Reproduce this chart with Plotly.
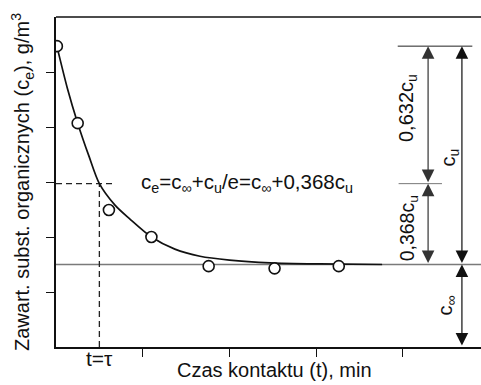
import plotly.graph_objects as go

# ---- data ----
t_points = [0.1, 2.5, 6.1, 11.0, 17.6, 25.2, 32.6]
c_points = [5.47, 4.07, 2.49, 2.0, 1.47, 1.43, 1.47]

t_curve = [0.1, 1.3, 2.5, 3.8, 5.0, 6.8, 8.5, 11.0, 13.7, 16.6, 20.0, 24.7, 30.4, 37.6]
c_curve = [5.47, 4.71, 4.07, 3.47, 2.97, 2.58, 2.33, 2.0, 1.78, 1.65, 1.58, 1.53, 1.51, 1.5]

c_inf = 1.5          # asymptote level
c_top = 5.47         # initial concentration level
c_e_tau = 2.97       # c_e at t = tau
tau = 5.0

x_ticks = [10, 20, 30, 40]
y_ticks = [1, 2, 3, 4, 5]

X_MAX = 49.0
Y_MAX = 6.0

FONT = "Liberation Sans, Arial, sans-serif"
INK = "#111111"

fig = go.Figure()

# asymptote line c_inf
fig.add_trace(go.Scatter(x=[0, X_MAX], y=[c_inf, c_inf], mode="lines",
                         line=dict(color="#7a7a7a", width=1.5), hoverinfo="skip"))
# dashed guides at t = tau
fig.add_trace(go.Scatter(x=[0, 6.8], y=[c_e_tau, c_e_tau], mode="lines",
                         line=dict(color="#222", width=1.3, dash="6px,4px"), hoverinfo="skip"))
fig.add_trace(go.Scatter(x=[tau, tau], y=[0, c_e_tau], mode="lines",
                         line=dict(color="#222", width=1.3, dash="6px,4px"), hoverinfo="skip"))
# fitted curve
fig.add_trace(go.Scatter(x=t_curve, y=c_curve, mode="lines",
                         line=dict(color="#111", width=1.7, shape="spline", smoothing=0.8),
                         hoverinfo="skip"))
# measured points
fig.add_trace(go.Scatter(x=t_points, y=c_points, mode="markers",
                         marker=dict(symbol="circle", size=11, color="white",
                                     line=dict(color="#111", width=1.6))))

# extension lines for dimensioning
fig.add_trace(go.Scatter(x=[39.4, 48.0], y=[c_top, c_top], mode="lines",
                         line=dict(color="#222", width=1), hoverinfo="skip"))
fig.add_trace(go.Scatter(x=[39.5, 44.5], y=[c_e_tau, c_e_tau], mode="lines",
                         line=dict(color="#777", width=1), hoverinfo="skip"))

annotations = []

def dim_arrow(x, y0, y1, color):
    annotations.append(dict(x=x, y=y1, ax=x, ay=y0, xref="x", yref="y", axref="x", ayref="y",
                            text="", showarrow=True, arrowhead=2, startarrowhead=2,
                            arrowside="end+start", arrowwidth=1.2, arrowsize=2.1,
                            startarrowsize=2.1, arrowcolor=color, standoff=0, startstandoff=0))

dim_arrow(42.9, c_e_tau, c_top, "#333")
dim_arrow(42.9, c_inf, c_e_tau, "#333")
dim_arrow(46.8, c_inf, c_top, "#111")
dim_arrow(46.8, 0, c_inf, "#111")

def label(text, x, y, size=19, angle=0, xanchor="center", xref="x", yref="y"):
    annotations.append(dict(x=x, y=y, xref=xref, yref=yref, text=text, showarrow=False,
                            textangle=angle, xanchor=xanchor, yanchor="middle",
                            font=dict(family=FONT, size=size, color=INK)))

label("0,632c<sub>u</sub>", 40.5, 4.35, size=20, angle=-90)
label("0,368c<sub>u</sub>", 40.6, 2.16, size=19.5, angle=-90)
label("c<sub>u</sub>", 45.4, 3.44, size=20, angle=-90)
label("c<sub>∞</sub>", 45.0, 0.76, size=20, angle=-90)
label("c<sub>e</sub>=c<sub>∞</sub>+c<sub>u</sub>/e=c<sub>∞</sub>+0,368c<sub>u</sub>",
      9.6, c_e_tau + 0.02, size=20.5, xanchor="left")
label("t=τ", tau, -0.035, size=21, yref="paper")
label("Czas kontaktu (t), min", 0.515, -0.07, size=20, xref="paper", yref="paper")
label("Zawart. subst. organicznych (c<sub>e</sub>), g/m<sup>3</sup>", -0.08, 0.5, size=20,
      angle=-90, xref="paper", yref="paper")

fig.update_layout(
    width=481, height=385,
    margin=dict(l=56, r=0, t=17, b=38),
    paper_bgcolor="white", plot_bgcolor="white",
    showlegend=False,
    annotations=annotations,
    shapes=[dict(type="line", xref="paper", yref="paper", x0=0, x1=1, y0=1, y1=1,
                 line=dict(color="#111", width=1.5))],
    font=dict(family=FONT, color=INK),
    xaxis=dict(range=[0, X_MAX], showgrid=False, zeroline=False, showline=True,
               linecolor="#111", linewidth=1.5, mirror=False,
               ticks="outside", ticklen=8, tickwidth=1.3, tickcolor="#111",
               tickvals=x_ticks, showticklabels=False),
    yaxis=dict(range=[0, Y_MAX], showgrid=False, zeroline=False, showline=True,
               linecolor="#111", linewidth=1.5, mirror=False,
               ticks="outside", ticklen=8, tickwidth=1.3, tickcolor="#111",
               tickvals=y_ticks, showticklabels=False),
)

fig.write_html("out.html", config={"displayModeBar": False},
               post_script="document.body.style.margin='0';document.body.style.padding='0';")
